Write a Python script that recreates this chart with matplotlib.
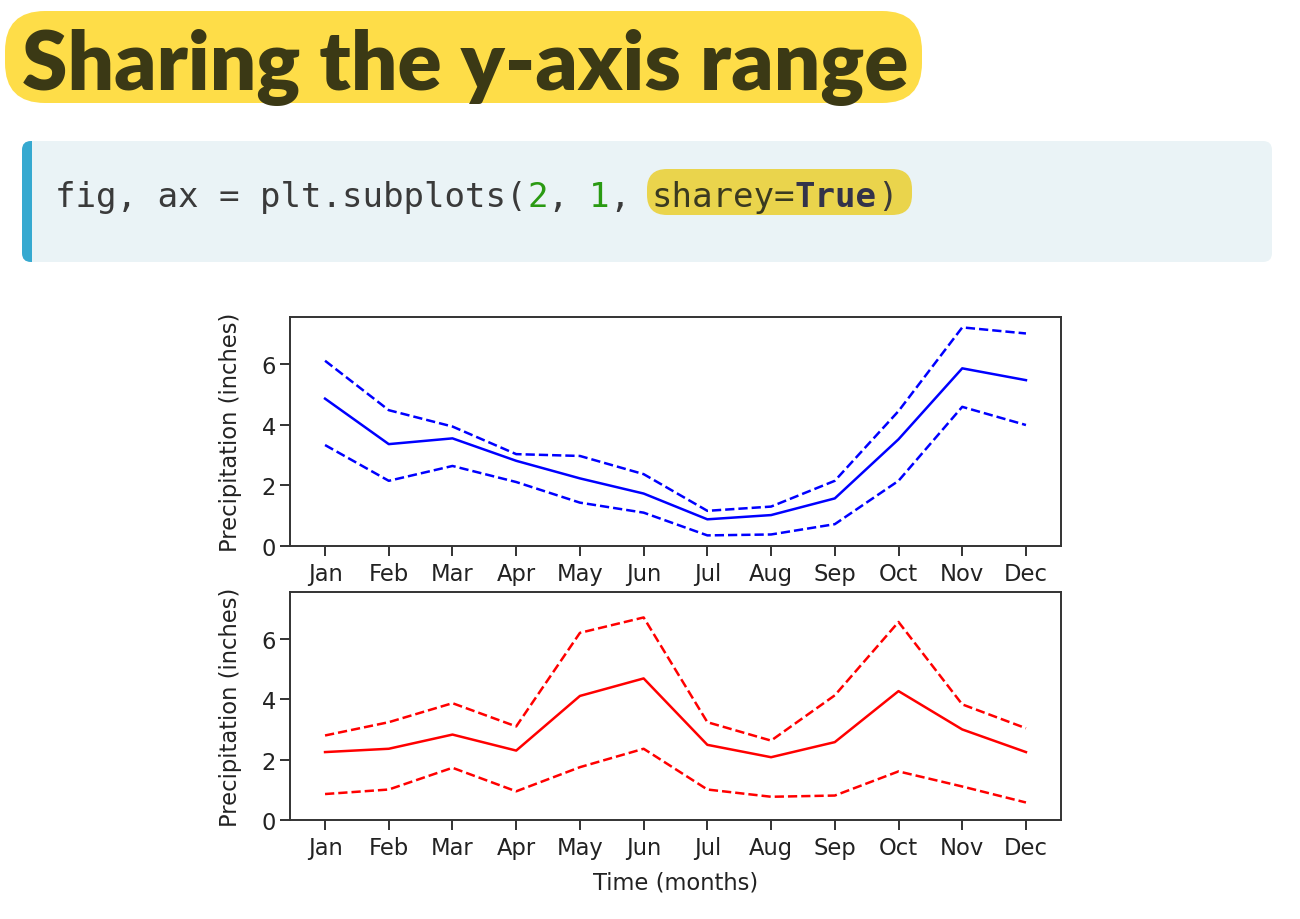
import matplotlib
matplotlib.use("Agg")
import matplotlib.pyplot as plt
from matplotlib.patches import FancyBboxPatch, Rectangle

# === DATA ===
months = ["Jan", "Feb", "Mar", "Apr", "May", "Jun",
          "Jul", "Aug", "Sep", "Oct", "Nov", "Dec"]

seattle_mean = [4.86, 3.36, 3.55, 2.81, 2.23, 1.73, 0.88, 1.02, 1.57, 3.52, 5.86, 5.47]
seattle_upper = [6.11, 4.48, 3.94, 3.03, 2.97, 2.37, 1.16, 1.30, 2.15, 4.45, 7.21, 7.01]
seattle_lower = [3.33, 2.15, 2.64, 2.11, 1.43, 1.10, 0.35, 0.38, 0.72, 2.15, 4.59, 3.99]

austin_mean = [2.25, 2.36, 2.83, 2.30, 4.11, 4.69, 2.49, 2.08, 2.58, 4.27, 3.00, 2.25]
austin_upper = [2.80, 3.24, 3.87, 3.10, 6.20, 6.71, 3.24, 2.63, 4.13, 6.56, 3.83, 3.04]
austin_lower = [0.86, 1.01, 1.73, 0.95, 1.75, 2.36, 1.01, 0.77, 0.81, 1.61, 1.11, 0.58]

TITLE = "Sharing the y-axis range"
CODE_PARTS = [("fig, ax = plt.subplots(", "#3a3a3a", "normal"),
              ("2", "#2a9a12", "normal"),
              (", ", "#3a3a3a", "normal"),
              ("1", "#2a9a12", "normal"),
              (", ", "#3a3a3a", "normal"),
              ("sharey=", "#3a3a20", "normal"),
              ("True", "#33334a", "bold"),
              (")", "#3a3a3a", "normal")]
# ============

W, H = 1300, 920
fig = plt.figure(figsize=(W / 100, H / 100), dpi=100)
fig.patch.set_facecolor("white")

# overlay in pixel coordinates for the slide decorations
bg = fig.add_axes([0, 0, 1, 1])
bg.set_xlim(0, W)
bg.set_ylim(H, 0)
bg.axis("off")

# title pill
bg.add_patch(FancyBboxPatch((5, 12), 917, 92,
                            boxstyle="round,pad=0,rounding_size=40",
                            fc="#fedd48", ec="none"))
bg.text(22, 90, TITLE, fontsize=59, fontweight="heavy", family="Lato",
        color="#3b3915", va="baseline", ha="left")

# code box
box = FancyBboxPatch((22, 142), 1250, 121,
                     boxstyle="round,pad=0,rounding_size=9",
                     fc="#eaf3f6", ec="none")
bg.add_patch(box)
bar = Rectangle((22, 142), 10, 121, fc="#36a9d0", ec="none")
bg.add_patch(bar)
bar.set_clip_path(box)

# highlight behind sharey=True
bg.add_patch(FancyBboxPatch((647, 170), 265, 46,
                            boxstyle="round,pad=0,rounding_size=20",
                            fc="#ead44c", ec="none"))

charw = 20.55
x0 = 55
pos = 0
for txt, col, wt in CODE_PARTS:
    bg.text(x0 + pos * charw, 207, txt, fontsize=24.6, family="DejaVu Sans Mono",
            color=col, fontweight=wt, va="baseline", ha="left")
    pos += len(txt)

# the two panels
ax1 = fig.add_axes([290 / W, 1 - 547 / H, 771 / W, 229 / H])
ax2 = fig.add_axes([290 / W, 1 - 821 / H, 771 / W, 228 / H], sharey=ax1)

ax1.plot(months, seattle_mean, color="b", lw=1.8)
ax1.plot(months, seattle_upper, color="b", lw=1.8, linestyle="--")
ax1.plot(months, seattle_lower, color="b", lw=1.8, linestyle="--")

ax2.plot(months, austin_mean, color="r", lw=1.8)
ax2.plot(months, austin_upper, color="r", lw=1.8, linestyle="--")
ax2.plot(months, austin_lower, color="r", lw=1.8, linestyle="--")

for ax in (ax1, ax2):
    ax.set_ylabel("Precipitation (inches)", fontsize=16.3, color="#222222")
    ax.set_yticks([0, 2, 4, 6])
    ax.tick_params(labelsize=16.3, length=7.2, width=1.3, colors="#222222", pad=3)
    ax.tick_params(axis="x", pad=4.5)
    for s in ax.spines.values():
        s.set_color("#333333")
        s.set_linewidth(1.4)
    ax.yaxis.set_label_coords(-0.062, 0.5)

ax2.set_xlabel("Time (months)", fontsize=16.3, color="#222222", labelpad=8)

fig.savefig("out.png", dpi=100)
